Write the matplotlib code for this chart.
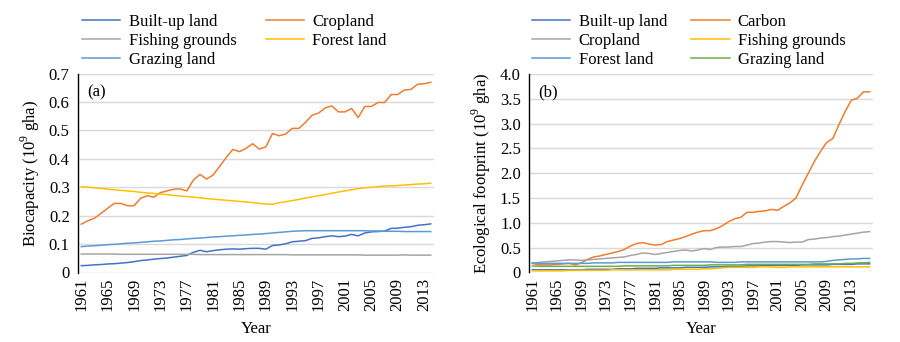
import matplotlib
matplotlib.use("Agg")
import matplotlib.pyplot as plt
import numpy as np

# ── data ────────────────────────────────────────────────────────────────
years_a = list(range(1961, 2015))
years_b = list(range(1961, 2017))

# (a) biocapacity, 10^9 gha
bc_builtup = [0.024, 0.025, 0.027, 0.028, 0.030, 0.031, 0.033, 0.035, 0.038, 0.042,
              0.044, 0.047, 0.049, 0.051, 0.054, 0.057, 0.060, 0.071, 0.078, 0.073,
              0.077, 0.080, 0.082, 0.083, 0.082, 0.084, 0.085, 0.085, 0.082, 0.095,
              0.097, 0.101, 0.108, 0.110, 0.112, 0.120, 0.122, 0.126, 0.129, 0.126,
              0.128, 0.134, 0.129, 0.139, 0.143, 0.144, 0.146, 0.155, 0.156, 0.159,
              0.161, 0.166, 0.168, 0.171]
bc_cropland = [0.170, 0.182, 0.191, 0.208, 0.226, 0.243, 0.243, 0.235, 0.235, 0.261,
               0.270, 0.265, 0.281, 0.287, 0.293, 0.294, 0.287, 0.325, 0.345, 0.329,
               0.343, 0.374, 0.405, 0.433, 0.425, 0.437, 0.453, 0.434, 0.442, 0.489,
               0.481, 0.487, 0.507, 0.507, 0.528, 0.553, 0.561, 0.579, 0.586, 0.565,
               0.565, 0.577, 0.545, 0.584, 0.584, 0.598, 0.598, 0.626, 0.626, 0.642,
               0.644, 0.662, 0.664, 0.669]
bc_fishing = [0.065, 0.065, 0.065, 0.065, 0.065, 0.065, 0.064, 0.064, 0.064, 0.064,
              0.064, 0.064, 0.064, 0.064, 0.064, 0.064, 0.064, 0.064, 0.063, 0.063,
              0.063, 0.063, 0.063, 0.063, 0.063, 0.063, 0.063, 0.063, 0.063, 0.063,
              0.063, 0.063, 0.062, 0.062, 0.062, 0.062, 0.062, 0.062, 0.062, 0.062,
              0.062, 0.062, 0.062, 0.061, 0.061, 0.061, 0.061, 0.061, 0.061, 0.062,
              0.061, 0.061, 0.061, 0.061]
bc_forest = [0.302, 0.300, 0.298, 0.296, 0.293, 0.291, 0.289, 0.287, 0.285, 0.282,
             0.280, 0.278, 0.276, 0.274, 0.271, 0.269, 0.267, 0.265, 0.263, 0.260,
             0.258, 0.256, 0.254, 0.252, 0.250, 0.248, 0.246, 0.243, 0.241, 0.240,
             0.245, 0.249, 0.253, 0.257, 0.262, 0.266, 0.270, 0.274, 0.279, 0.283,
             0.287, 0.291, 0.295, 0.298, 0.300, 0.302, 0.304, 0.305, 0.306, 0.308,
             0.309, 0.311, 0.312, 0.314]
bc_grazing = [0.091, 0.093, 0.094, 0.096, 0.098, 0.099, 0.101, 0.103, 0.104, 0.106,
              0.108, 0.110, 0.111, 0.113, 0.115, 0.116, 0.118, 0.120, 0.121, 0.123,
              0.125, 0.126, 0.128, 0.129, 0.131, 0.132, 0.134, 0.135, 0.137, 0.139,
              0.141, 0.143, 0.145, 0.146, 0.147, 0.147, 0.147, 0.147, 0.147, 0.147,
              0.147, 0.147, 0.147, 0.147, 0.146, 0.146, 0.145, 0.145, 0.145, 0.144,
              0.144, 0.144, 0.144, 0.144]

# (b) ecological footprint, 10^9 gha
ef_builtup = [0.05, 0.05, 0.05, 0.05, 0.05, 0.05, 0.05, 0.05, 0.05, 0.06,
              0.06, 0.06, 0.06, 0.06, 0.07, 0.07, 0.07, 0.08, 0.08, 0.08,
              0.08, 0.09, 0.09, 0.09, 0.09, 0.10, 0.10, 0.10, 0.10, 0.11,
              0.11, 0.11, 0.12, 0.12, 0.12, 0.13, 0.13, 0.13, 0.14, 0.14,
              0.14, 0.14, 0.14, 0.14, 0.15, 0.15, 0.15, 0.15, 0.15, 0.16,
              0.16, 0.16, 0.16, 0.17, 0.17, 0.17]
ef_carbon = [0.18, 0.15, 0.15, 0.15, 0.16, 0.17, 0.18, 0.15, 0.19, 0.26,
             0.31, 0.33, 0.36, 0.39, 0.42, 0.46, 0.53, 0.58, 0.60, 0.57,
             0.55, 0.56, 0.62, 0.65, 0.68, 0.72, 0.77, 0.81, 0.84, 0.84,
             0.88, 0.94, 1.02, 1.08, 1.11, 1.21, 1.21, 1.23, 1.24, 1.27,
             1.25, 1.33, 1.40, 1.50, 1.76, 2.00, 2.24, 2.44, 2.62, 2.70,
             2.98, 3.24, 3.47, 3.51, 3.64, 3.64]
ef_cropland = [0.18, 0.20, 0.21, 0.22, 0.23, 0.24, 0.25, 0.25, 0.24, 0.25,
               0.26, 0.27, 0.28, 0.29, 0.30, 0.31, 0.34, 0.36, 0.39, 0.38,
               0.36, 0.38, 0.40, 0.42, 0.44, 0.45, 0.43, 0.45, 0.48, 0.46,
               0.50, 0.51, 0.51, 0.52, 0.52, 0.55, 0.58, 0.59, 0.61, 0.62,
               0.62, 0.61, 0.60, 0.61, 0.61, 0.66, 0.67, 0.69, 0.70, 0.72,
               0.73, 0.75, 0.77, 0.79, 0.81, 0.82]
ef_fishing = [0.03, 0.03, 0.03, 0.03, 0.03, 0.03, 0.04, 0.04, 0.04, 0.04,
              0.04, 0.04, 0.04, 0.05, 0.05, 0.05, 0.05, 0.05, 0.05, 0.05,
              0.05, 0.05, 0.05, 0.06, 0.06, 0.06, 0.06, 0.06, 0.07, 0.07,
              0.08, 0.09, 0.10, 0.10, 0.10, 0.10, 0.10, 0.11, 0.11, 0.11,
              0.10, 0.10, 0.11, 0.11, 0.11, 0.11, 0.11, 0.11, 0.11, 0.11,
              0.11, 0.11, 0.11, 0.11, 0.11, 0.11]
ef_forest = [0.19, 0.18, 0.18, 0.18, 0.18, 0.18, 0.18, 0.18, 0.18, 0.18,
             0.19, 0.19, 0.19, 0.19, 0.20, 0.20, 0.20, 0.20, 0.20, 0.20,
             0.20, 0.20, 0.20, 0.21, 0.21, 0.21, 0.21, 0.21, 0.21, 0.21,
             0.20, 0.20, 0.20, 0.20, 0.21, 0.21, 0.21, 0.21, 0.21, 0.21,
             0.21, 0.21, 0.21, 0.21, 0.21, 0.21, 0.21, 0.21, 0.22, 0.24,
             0.25, 0.26, 0.27, 0.27, 0.28, 0.28]
ef_grazing = [0.13, 0.12, 0.12, 0.12, 0.12, 0.12, 0.12, 0.12, 0.12, 0.12,
              0.12, 0.12, 0.12, 0.12, 0.12, 0.13, 0.13, 0.13, 0.13, 0.13,
              0.13, 0.13, 0.13, 0.14, 0.14, 0.14, 0.14, 0.14, 0.14, 0.15,
              0.15, 0.15, 0.15, 0.15, 0.15, 0.16, 0.16, 0.16, 0.16, 0.16,
              0.16, 0.16, 0.16, 0.16, 0.16, 0.16, 0.17, 0.17, 0.17, 0.17,
              0.17, 0.18, 0.18, 0.19, 0.19, 0.20]

BLUE, ORANGE, GRAY, GOLD, LIGHTBLUE, GREEN = (
    "#4472C4", "#ED7D31", "#A5A5A5", "#FFC000", "#5B9BD5", "#70AD47")

series_a = [
    ("Built-up land", bc_builtup, BLUE),
    ("Cropland", bc_cropland, ORANGE),
    ("Fishing grounds", bc_fishing, GRAY),
    ("Forest land", bc_forest, GOLD),
    ("Grazing land", bc_grazing, LIGHTBLUE),
]
series_b = [
    ("Built-up land", ef_builtup, BLUE),
    ("Carbon", ef_carbon, ORANGE),
    ("Cropland", ef_cropland, GRAY),
    ("Fishing grounds", ef_fishing, GOLD),
    ("Forest land", ef_forest, LIGHTBLUE),
    ("Grazing land", ef_grazing, GREEN),
]

plt.rcParams.update({
    "font.family": ["Liberation Serif", "DejaVu Serif"],
    "font.size": 12,
    "mathtext.fontset": "custom",
    "mathtext.rm": "Liberation Serif",
})

fig = plt.figure(figsize=(9, 3.42), dpi=100)
ax_a = fig.add_axes([78 / 900, 1 - 272.5 / 342, 356 / 900, 199 / 342])
ax_b = fig.add_axes([529.3 / 900, 1 - 272.3 / 342, 343.4 / 900, 198.3 / 342])


def draw_panel(ax, years, series, ymax, ystep, ylabel, tag):
    idx = np.arange(len(years))
    handles = []
    for name, vals, col in series:
        h, = ax.plot(idx, vals, color=col, lw=1.1, label=name)
        handles.append(h)

    ax.set_xlim(-0.5, len(years) - 0.5)
    ax.set_ylim(0, ymax)
    ticks = np.arange(0, ymax + ystep / 2, ystep)
    ax.set_yticks(ticks)
    ax.set_yticklabels(["0" if t == 0 else f"{t:.1f}" for t in ticks])
    ax.set_xticks(idx[::4])
    ax.set_xticklabels([str(y) for y in years[::4]], rotation=90)
    ax.tick_params(axis="x", length=0, pad=4)
    ax.tick_params(axis="y", length=0, pad=6)
    ax.grid(axis="y", color="#D9D9D9", lw=1.0)
    ax.set_axisbelow(True)
    for s in ("top", "right", "bottom"):
        ax.spines[s].set_visible(False)
    ax.spines["left"].set_color("black")
    ax.spines["left"].set_linewidth(1.0)
    ax.set_xlabel("Year", labelpad=7)
    ax.set_ylabel(ylabel, labelpad=5)
    ax.text(0.025, 0.905, tag, transform=ax.transAxes, va="center", ha="left")
    return handles


def row_major(handles, ncol=2):
    # legend fills column by column; reorder so entries read across rows
    return [h for c in range(ncol) for h in handles[c::ncol]]


h_a = draw_panel(ax_a, years_a, series_a, 0.7, 0.1,
                 "Biocapacity (10$^{9}$ gha)", "(a)")
h_b = draw_panel(ax_b, years_b, series_b, 4.0, 0.5,
                 "Ecological footprint (10$^{9}$ gha)", "(b)")

leg_kw = dict(ncol=2, frameon=False, loc="upper left", handlelength=2.3,
              handletextpad=0.5, labelspacing=0.17, borderpad=0,
              borderaxespad=0)
fig.legend(handles=row_major(h_a), bbox_to_anchor=(82 / 900, 1 - 14 / 342),
           columnspacing=1.75, **leg_kw)
fig.legend(handles=row_major(h_b), bbox_to_anchor=(532 / 900, 1 - 14 / 342),
           columnspacing=1.45, **leg_kw)

fig.savefig("out.png", dpi=100, facecolor="white")
